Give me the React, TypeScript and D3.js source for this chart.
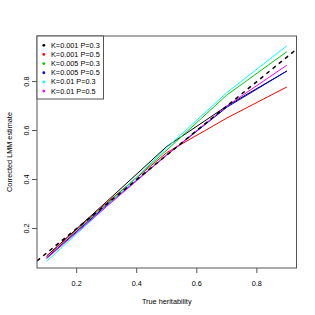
import React from "react";
import * as d3 from "d3";

const heritability = [0.1, 0.3, 0.5, 0.7, 0.9];
const seriesNames = ["K=0.001 P=0.3", "K=0.001 P=0.5", "K=0.005 P=0.3", "K=0.005 P=0.5", "K=0.01 P=0.3", "K=0.01 P=0.5"];
const seriesColors = ["#000000", "#FF0000", "#00CD00", "#0000FF", "#00FFFF", "#FF00FF"];
const k001p03 = [0.088, 0.31, 0.535, 0.70, 0.843];
const k001p05 = [0.086, 0.305, 0.51, 0.651, 0.778];
const k005p03 = [0.08, 0.30, 0.52, 0.745, 0.922];
const k005p05 = [0.08, 0.295, 0.50, 0.695, 0.843];
const k01p03 = [0.066, 0.29, 0.53, 0.755, 0.946];
const k01p05 = [0.077, 0.29, 0.50, 0.70, 0.867];
const seriesValues = [k001p03, k001p05, k005p03, k005p05, k01p03, k01p05];
const xTicks = [0.2, 0.4, 0.6, 0.8];
const yTicks = [0.2, 0.4, 0.6, 0.8];

export default function App() {
  const W = 315, H = 315;
  const L = 37, R = 296.5, T = 36, B = 268;
  const x = d3.scaleLinear().domain([0.068, 0.932]).range([L, R]);
  const y = d3.scaleLinear().domain([0.0388, 0.986]).range([B, T]);
  const line = d3.line<number>().x((_, i) => x(heritability[i])).y((d) => y(d));
  const font = "Liberation Sans, Arial, Helvetica, sans-serif";
  const fs = 7.3;
  return (
    <svg width={W} height={H} style={{ position: "absolute", left: 0, top: 0 }} fontFamily={font}>
      <rect x={0} y={0} width={W} height={H} fill="#fff" />
      <defs>
        <clipPath id="plotclip">
          <rect x={L} y={T} width={R - L} height={B - T} />
        </clipPath>
      </defs>
      <g clipPath="url(#plotclip)">
        {seriesValues.map((vals, i) => (
          <path key={i} d={line(vals) || ""} fill="none" stroke={seriesColors[i]} strokeWidth={1} />
        ))}
        <line x1={x(0.068)} y1={y(0.068)} x2={x(0.932)} y2={y(0.932)} stroke="#000" strokeWidth={1.5} strokeDasharray="4,4" />
      </g>
      <rect x={L} y={T} width={R - L} height={B - T} fill="none" stroke="#555" strokeWidth={1} />
      {xTicks.map((t) => (
        <g key={t}>
          <line x1={x(t)} x2={x(t)} y1={B} y2={B + 5} stroke="#555" />
          <text x={x(t)} y={283} fontSize={fs} textAnchor="middle" dominantBaseline="central" fill="#000">{t.toFixed(1)}</text>
        </g>
      ))}
      {yTicks.map((t) => (
        <g key={t}>
          <line x1={L - 5} x2={L} y1={y(t)} y2={y(t)} stroke="#555" />
          <text x={0} y={0} fontSize={fs} textAnchor="middle" dominantBaseline="central" fill="#000" transform={`translate(26.5,${y(t)}) rotate(-90)`}>{t.toFixed(1)}</text>
        </g>
      ))}
      <text x={(L + R) / 2} y={301.5} fontSize={fs} textAnchor="middle" dominantBaseline="central">True heritability</text>
      <text x={0} y={0} fontSize={fs} textAnchor="middle" dominantBaseline="central" transform={`translate(9.5,${(T + B) / 2}) rotate(-90)`}>Corrected LMM estimate</text>
      <rect x={L} y={T} width={66.5} height={63} fill="#fff" stroke="#555" strokeWidth={1} />
      {seriesNames.map((n, i) => (
        <g key={n}>
          <circle cx={43.8} cy={45.3 + i * 9.15} r={1.4} fill={seriesColors[i]} />
          <text x={51} y={45.3 + i * 9.15} fontSize={fs} dominantBaseline="central">{n}</text>
        </g>
      ))}
    </svg>
  );
}
